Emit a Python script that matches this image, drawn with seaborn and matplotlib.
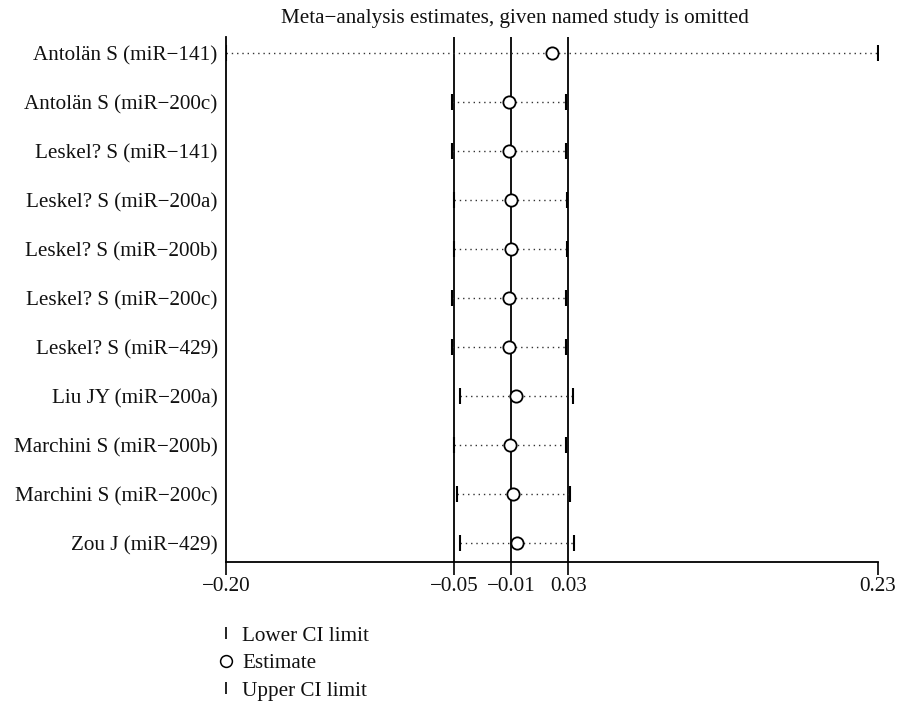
import numpy as np
import pandas as pd
import matplotlib
matplotlib.use("Agg")
import matplotlib.pyplot as plt
from matplotlib.lines import Line2D
import seaborn as sns

studies = [
    "Antolän S (miR−141)",
    "Antolän S (miR−200c)",
    "Leskel? S (miR−141)",
    "Leskel? S (miR−200a)",
    "Leskel? S (miR−200b)",
    "Leskel? S (miR−200c)",
    "Leskel? S (miR−429)",
    "Liu JY (miR−200a)",
    "Marchini S (miR−200b)",
    "Marchini S (miR−200c)",
    "Zou J (miR−429)",
]
estimate = [0.0152, -0.0134, -0.0134, -0.0122, -0.0122, -0.0134, -0.0134,
            -0.0085, -0.0129, -0.0109, -0.0079]
lower_ci = [-0.2000, -0.0508, -0.0508, -0.0498, -0.0498, -0.0508, -0.0508,
            -0.0457, -0.0498, -0.0479, -0.0455]
upper_ci = [0.2300, 0.0244, 0.0242, 0.0251, 0.0251, 0.0242, 0.0244,
            0.0288, 0.0244, 0.0267, 0.0295]
overall = [-0.0494, -0.0118, 0.0258]  # overall lower CI, estimate, upper CI
tick_values = [-0.20, -0.0494, -0.0118, 0.0258, 0.23]
tick_labels = ["−0.20", "−0.05", "−0.01", "0.03", "0.23"]
title = "Meta−analysis estimates, given named study is omitted"
legend_labels = ["Lower CI limit", "Estimate", "Upper CI limit"]

sns.set_theme(style="white")
plt.rcParams["font.family"] = ["Liberation Serif", "DejaVu Serif"]

FS = 15.2
TXT = "#111111"

df = pd.DataFrame({
    "study": studies,
    "pos": np.arange(len(studies)),
    "est": estimate,
    "lo": lower_ci,
    "hi": upper_ci,
})

W, H = 897, 703
fig = plt.figure(figsize=(W / 100, H / 100), dpi=100)
ax_l, ax_r, ax_t, ax_b = 226, 878, 37, 562
ax = fig.add_axes([ax_l / W, 1 - ax_b / H, (ax_r - ax_l) / W, (ax_b - ax_t) / H])

# dotted CI lines
ax.hlines(df["pos"], df["lo"], df["hi"], colors="#333333", linestyles=(0, (1, 2.8)),
          linewidth=1.0, zorder=2)
# overall reference lines
for v in overall:
    ax.axvline(v, color="black", linewidth=1.3, zorder=1)

# CI limits
sns.scatterplot(data=df, x="lo", y="pos", marker="|", s=120, color="black",
                linewidth=1.5, ax=ax, zorder=3, legend=False)
sns.scatterplot(data=df, x="hi", y="pos", marker="|", s=120, color="black",
                linewidth=1.5, ax=ax, zorder=3, legend=False)
# estimates
sns.scatterplot(data=df, x="est", y="pos", marker="o", s=78, facecolor="white",
                edgecolor="black", linewidth=1.3, ax=ax, zorder=4, legend=False)

ax.set_xlim(min(lower_ci), max(upper_ci))
ax.set_ylim(len(studies) - 1 + 0.39, -0.33)
ax.set_yticks(df["pos"])
ax.set_yticklabels(studies, fontsize=FS, color=TXT)
ax.set_xticks(tick_values)
ax.set_xticklabels(tick_labels, fontsize=FS, color=TXT)
ax.tick_params(axis="y", length=0, pad=6, left=False)
ax.tick_params(axis="x", bottom=True, length=9, width=1.2, color="black", pad=2,
               direction="out")
ax.set_xlabel("")
ax.set_ylabel("")
for s in ["top", "right"]:
    ax.spines[s].set_visible(False)
for s in ["left", "bottom"]:
    ax.spines[s].set_visible(True)
    ax.spines[s].set_color("black")
    ax.spines[s].set_linewidth(1.3)
ax.set_facecolor("white")
ax.set_title(title, fontsize=FS, pad=10, color=TXT, x=(515 - ax_l) / (ax_r - ax_l))

handles = [
    Line2D([], [], marker="|", ls="none", color="black", markersize=9, markeredgewidth=1.2),
    Line2D([], [], marker="o", ls="none", markerfacecolor="white", markeredgecolor="black",
           markersize=8.5, markeredgewidth=1.1),
    Line2D([], [], marker="|", ls="none", color="black", markersize=9, markeredgewidth=1.2),
]
fig.legend(handles, legend_labels, loc="upper left",
           bbox_to_anchor=(219 / W, 1 - 626 / H), frameon=False, fontsize=FS,
           handlelength=0.7, handletextpad=0.4, labelspacing=0.36, borderpad=0,
           borderaxespad=0, labelcolor=TXT)

fig.savefig("out.png", dpi=100, facecolor="white")
